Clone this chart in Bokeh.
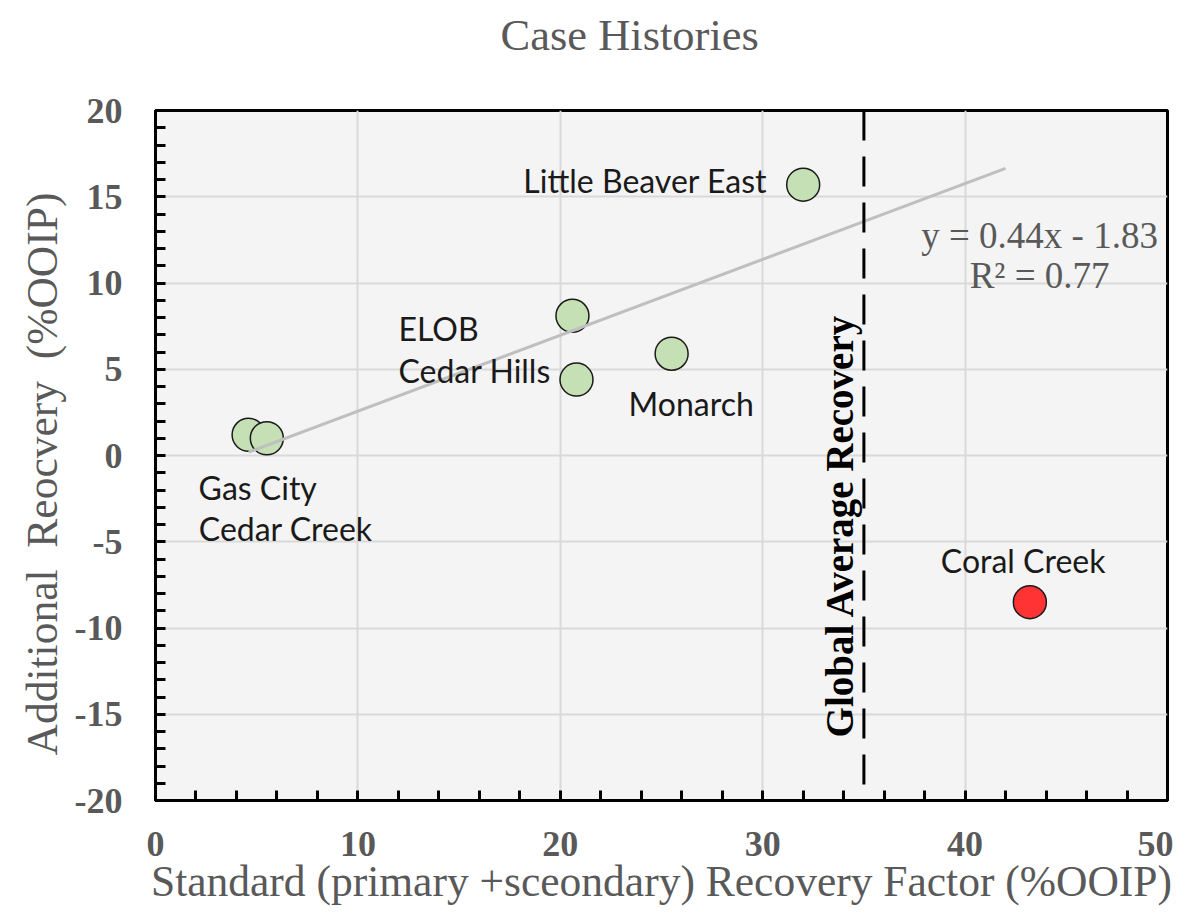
import math
from bokeh.plotting import figure
from bokeh.models import Span, FixedTicker, Range1d, ColumnDataSource, Title
from bokeh.core.properties import value
from bokeh.embed import file_html
from bokeh.resources import INLINE

# ---------------- data ----------------
names = ["Little Beaver East", "ELOB", "Cedar Hills", "Monarch", "Gas City", "Cedar Creek", "Coral Creek"]
std_recovery = [32.0, 20.6, 20.8, 25.5, 4.6, 5.5, 43.2]
add_recovery = [15.7, 8.1, 4.4, 5.9, 1.2, 1.0, -8.5]
is_outlier = [False, False, False, False, False, False, True]

trend_slope = 0.44
trend_intercept = -1.83
trend_r2 = 0.77
trend_x_end = 42.0
global_avg_recovery = 35.0

x_ticks = [0, 10, 20, 30, 40, 50]
x_minor = [2, 4, 6, 8, 12, 14, 16, 18, 22, 24, 26, 28, 32, 34, 36, 38, 42, 44, 46, 48]
y_ticks = [-20, -15, -10, -5, 0, 5, 10, 15, 20]
y_minor = [v for v in range(-20, 21) if v % 5 != 0]

title_text = "Case Histories"
x_label_text = "Standard (primary +sceondary) Recovery Factor (%OOIP)"
y_label_text = "Additional\u00a0 Reocvery\u00a0 (%OOIP)"

# ---------------- styles ----------------
GRAY = "#595959"
SERIF = "Liberation Serif"
label_style = {
    # name: (align, x_offset px, y_offset px)
    "Little Beaver East": ("right", -36, -4),
    "ELOB": ("left", -174, 13),
    "Cedar Hills": ("left", -178, -9),
    "Monarch": ("left", -43, 50),
    "Gas City": ("left", -50, 53),
    "Cedar Creek": ("left", -68, 90),
    "Coral Creek": ("left", -89, -42),
}

x0, x1 = x_ticks[0], x_ticks[-1]
y0, y1 = y_ticks[0], y_ticks[-1]
yc = (y0 + y1) / 2

p = figure(width=1173, height=907,
           x_range=Range1d(x0, x1), y_range=Range1d(y0, y1),
           output_backend="svg", toolbar_location=None,
           min_border_left=155, min_border_right=6,
           min_border_top=110, min_border_bottom=107,
           background_fill_color="#f4f4f4", border_fill_color="white",
           outline_line_color="black", outline_line_width=3)

# chart title (an empty second line lifts it towards the top of the page)
p.title.text = title_text + "\n"
p.title.align = "left"
p.title.offset = 345
p.title.vertical_align = "bottom"
p.title.standoff = 2
p.title.text_font = SERIF
p.title.text_font_size = "44.5px"
p.title.text_font_style = "normal"
p.title.text_color = GRAY

p.xaxis.ticker = FixedTicker(ticks=x_ticks, minor_ticks=x_minor)
p.yaxis.ticker = FixedTicker(ticks=y_ticks, minor_ticks=y_minor)
p.xgrid.ticker = FixedTicker(ticks=x_ticks)
p.ygrid.ticker = FixedTicker(ticks=y_ticks)
p.yaxis.major_label_overrides = {t: str(t) for t in y_ticks}
p.xaxis.major_label_overrides = {t: str(t) for t in x_ticks}

for ax in (p.xaxis[0], p.yaxis[0]):
    ax.axis_line_color = "black"
    ax.axis_line_width = 3
    ax.major_tick_in = 10
    ax.major_tick_out = 0
    ax.minor_tick_in = 10
    ax.minor_tick_out = 0
    ax.major_tick_line_width = 3
    ax.minor_tick_line_width = 3
    ax.major_tick_line_color = "black"
    ax.minor_tick_line_color = "black"
    ax.major_label_text_font = SERIF
    ax.major_label_text_font_style = "bold"
    ax.major_label_text_font_size = "36px"
    ax.major_label_text_color = GRAY
    ax.axis_label_text_font = SERIF
    ax.axis_label_text_font_style = "normal"
    ax.axis_label_text_font_size = "43.5px"
    ax.axis_label_text_color = GRAY

p.xaxis.major_label_standoff = 31
p.yaxis.major_label_standoff = 33
p.xaxis.axis_label = x_label_text
p.xaxis.axis_label_standoff = -2

# y axis title, as a side-panel title so it can be shifted along the axis
p.add_layout(Title(text=y_label_text, align="left", offset=45, standoff=12,
                   vertical_align="bottom",
                   text_font=SERIF, text_font_size="43.5px",
                   text_font_style="normal", text_color=GRAY), "left")

for g in (p.xgrid[0], p.ygrid[0]):
    g.grid_line_color = "#d9d9d9"
    g.grid_line_width = 2

# global average vertical dashed line
p.add_layout(Span(location=global_avg_recovery, dimension="height",
                  line_color="black", line_width=3, line_dash="30 16"))
p.text(x=[global_avg_recovery], y=[yc - 4.06],
       text=["Global Average Recovery"], angle=math.pi / 2,
       x_offset=-24, text_align="center", text_baseline="middle",
       text_font=value(SERIF), text_font_style="bold",
       text_font_size="39px", text_color="black")

# points
colors = ["#ff3333" if o else "#c5e0b4" for o in is_outlier]
src = ColumnDataSource(dict(x=std_recovery, y=add_recovery, name=names, color=colors,
                            align=[label_style[n][0] for n in names],
                            xo=[label_style[n][1] for n in names],
                            yo=[label_style[n][2] for n in names]))
p.scatter("x", "y", source=src, size=33, fill_color="color",
          line_color="#1a1a1a", line_width=1.5)

# trend line (fit over the case histories excluding the outlier)
fit_x = [x for x, o in zip(std_recovery, is_outlier) if not o]
tx = [min(fit_x), trend_x_end]
ty = [trend_slope * v + trend_intercept for v in tx]
p.line(tx, ty, line_color="#bfbfbf", line_width=3)

# point labels
p.text("x", "y", text="name", source=src, x_offset="xo", y_offset="yo",
       text_align="align", text_baseline="middle",
       text_font=value("Lato"), text_font_size="32px", text_color="#1a1a1a")

# equation
eq_x = 43.68
p.text(x=[eq_x, eq_x], y=[12.75, 10.43],
       text=[f"y = {trend_slope:.2f}x - {abs(trend_intercept):.2f}", f"R\u00b2 = {trend_r2:.2f}"],
       text_align="center", text_baseline="middle",
       text_font=value(SERIF), text_font_size="37px", text_color=GRAY)

open("out.html", "w").write(file_html(p, INLINE))
